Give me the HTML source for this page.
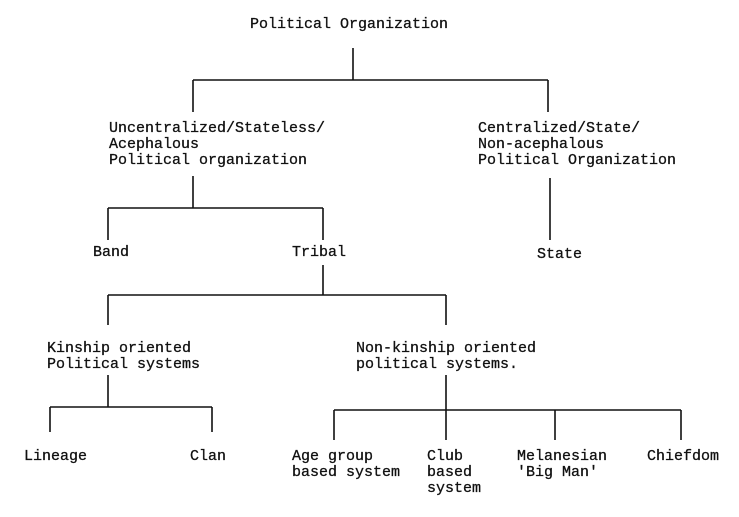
<!DOCTYPE html>
<html><head><meta charset="utf-8"><style>
html,body{margin:0;padding:0;background:#fff;}
body{width:739px;height:517px;position:relative;overflow:hidden;font-family:"Liberation Mono",monospace;font-size:15px;letter-spacing:0px;color:#111;-webkit-text-stroke:0.3px #111;}
.t{position:absolute;line-height:16px;white-space:pre;}
svg{position:absolute;left:0;top:0;}
</style></head><body>
<svg width="739" height="517" stroke="#111" stroke-width="1.6" fill="none">
<path d="M353 48V80M193 80H548M193 80V112M548 80V112"/>
<path d="M193 176V208M108 208H323M108 208V240M323 208V240"/>
<path d="M550 178V240"/>
<path d="M323 265V295M108 295H446M108 295V325M446 295V325"/>
<path d="M108 375V407M50 407H212M50 407V432M212 407V432"/>
<path d="M446 375V432M334 410H681M334 410V440M446 410V440M555 410V440M681 410V440"/>
</svg>
<div class="t" style="left:250px;top:17px">Political Organization</div>
<div class="t" style="left:109px;top:121px">Uncentralized/Stateless/
Acephalous
Political organization</div>
<div class="t" style="left:478px;top:121px">Centralized/State/
Non-acephalous
Political Organization</div>
<div class="t" style="left:93px;top:245px">Band</div>
<div class="t" style="left:292px;top:245px">Tribal</div>
<div class="t" style="left:537px;top:247px">State</div>
<div class="t" style="left:47px;top:341px">Kinship oriented
Political systems</div>
<div class="t" style="left:356px;top:341px">Non-kinship oriented
political systems.</div>
<div class="t" style="left:24px;top:449px">Lineage</div>
<div class="t" style="left:190px;top:449px">Clan</div>
<div class="t" style="left:292px;top:449px">Age group
based system</div>
<div class="t" style="left:427px;top:449px">Club
based
system</div>
<div class="t" style="left:517px;top:449px">Melanesian
'Big Man'</div>
<div class="t" style="left:647px;top:449px">Chiefdom</div>
</body></html>
